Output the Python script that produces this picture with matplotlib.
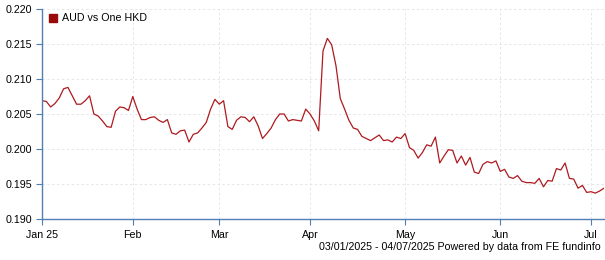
import matplotlib
matplotlib.use("Agg")
import matplotlib.pyplot as plt
import pandas as pd

# daily (business-day) rates, 03/01/2025 - 04/07/2025
dates = pd.bdate_range("2025-01-03", "2025-07-04")
rates = [
    0.2069, 0.2068, 0.2060, 0.2065, 0.2073, 0.2086, 0.2088, 0.2076, 0.2064, 0.2064,
    0.2069, 0.2076, 0.2050, 0.2047, 0.2040, 0.2032, 0.2031, 0.2054, 0.2060, 0.2059,
    0.2055, 0.2075, 0.2057, 0.2042, 0.2042, 0.2045, 0.2046, 0.2041, 0.2038, 0.2042,
    0.2023, 0.2021, 0.2026, 0.2027, 0.2010, 0.2021, 0.2023, 0.2030, 0.2038, 0.2057,
    0.2071, 0.2064, 0.2069, 0.2032, 0.2028, 0.2041, 0.2046, 0.2045, 0.2039, 0.2046,
    0.2033, 0.2015, 0.2022, 0.2030, 0.2042, 0.2050, 0.2050, 0.2040, 0.2042, 0.2041,
    0.2040, 0.2057, 0.2050, 0.2040, 0.2026, 0.2140, 0.2158, 0.2149, 0.2119, 0.2072,
    0.2057, 0.2041, 0.2030, 0.2028, 0.2018, 0.2015, 0.2012, 0.2016, 0.2020, 0.2012,
    0.2013, 0.2010, 0.2017, 0.2015, 0.2022, 0.2002, 0.1998, 0.1987, 0.1995, 0.2006,
    0.2004, 0.2017, 0.1980, 0.1990, 0.1999, 0.1998, 0.1980, 0.1990, 0.1977, 0.1988,
    0.1967, 0.1965, 0.1978, 0.1982, 0.1980, 0.1983, 0.1968, 0.1971, 0.1960, 0.1958,
    0.1962, 0.1954, 0.1952, 0.1952, 0.1951, 0.1958, 0.1946, 0.1955, 0.1954, 0.1972,
    0.1970, 0.1980, 0.1958, 0.1957, 0.1944, 0.1948, 0.1938, 0.1939, 0.1937, 0.1940,
    0.1944,
]
series_label = "AUD vs One HKD"
y_ticks = [0.190, 0.195, 0.200, 0.205, 0.210, 0.215, 0.220]
footer = "03/01/2025 - 04/07/2025 Powered by data from FE fundinfo"

plt.rcParams["font.family"] = ["Liberation Sans", "DejaVu Sans"]
axis_blue = "#4f7fb5"
line_red = "#ad1a1f"
fs = 7.7

fig = plt.figure(figsize=(6.05, 2.6), dpi=100)
ax = fig.add_axes([42 / 605, 41 / 260, 562 / 605, 210 / 260])

idx = list(range(len(dates)))
ax.plot(idx, rates, color=line_red, lw=0.9)

# month ticks at the first trading day of each month
months = pd.Series(idx, index=dates).groupby(dates.to_period("M")).first()
tick_pos = list(months.values)
tick_lab = ["Jan 25" if i == 0 else d.strftime("%b") for i, d in enumerate(months.index)]
ax.set_xticks(tick_pos)
ax.set_xticklabels(tick_lab)
ax.set_xlim(0, len(dates) - 1)

ax.set_yticks(y_ticks)
ax.set_yticklabels([f"{v:.3f}" for v in y_ticks])
ax.set_ylim(0.190, 0.220)

ax.grid(True, color="#e6e6e6", linestyle=(0, (2.5, 2.5)), linewidth=0.7)
ax.set_axisbelow(True)
for side in ["top", "right"]:
    ax.spines[side].set_visible(False)
for side in ["left", "bottom"]:
    ax.spines[side].set_color(axis_blue)
    ax.spines[side].set_linewidth(1.0)
ax.tick_params(axis="both", colors=axis_blue, labelcolor="black", labelsize=fs,
               length=4, width=0.8)
ax.tick_params(axis="x", pad=4)
ax.tick_params(axis="y", pad=3)

# legend: small square + label, top left inside the plot
fig.add_artist(plt.Rectangle((49 / 605, 1 - 22 / 260), 8 / 605, 8 / 260,
                             transform=fig.transFigure, color="#9b0a0a"))
fig.text(62 / 605, 1 - 18 / 260, series_label, fontsize=fs, va="center")

fig.text(601 / 605, 1 - 247 / 260, footer, fontsize=fs, ha="right", va="center")

fig.savefig("out.png", dpi=100)
